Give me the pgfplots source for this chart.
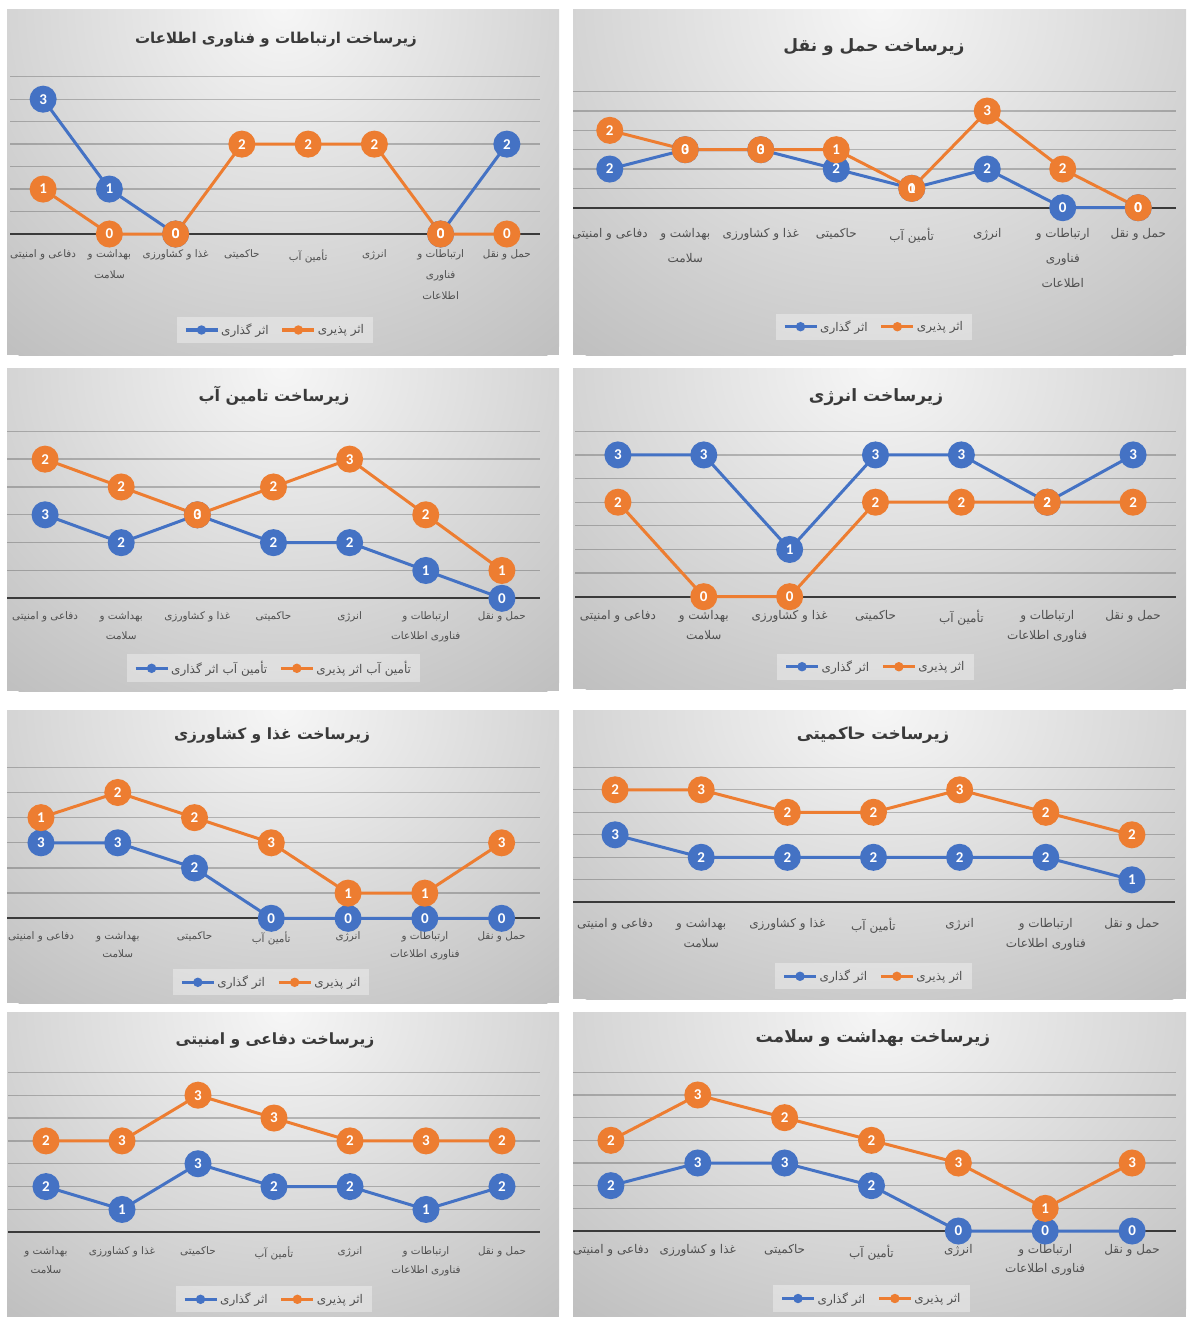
\documentclass[border=0pt]{standalone}
\usepackage{pgfplots}
\usepackage{pgfplotstable}
\pgfplotsset{compat=1.18}
\usepackage{fontspec}
\TeXXeTstate=1
\newfontfamily\fafont[Script=Arabic]{DejaVu Sans}
\newfontfamily\digfont{Carlito}
\newcommand{\fa}[1]{\beginR #1\endR}
\definecolor{cblue}{HTML}{4472C4}
\definecolor{corange}{HTML}{ED7D31}
\definecolor{labelgray}{HTML}{505050}
\definecolor{titlegray}{HTML}{3A3A3A}
\definecolor{axisdark}{HTML}{3A3A3A}
\definecolor{panelgray}{HTML}{C0C0C0}
\definecolor{panelwhite}{HTML}{F6F6F6}

\newcommand{\panel}[4]{%
 \fill[panelgray] (#1pt,-#2pt) rectangle (#3pt,-#4pt);
 \begin{scope}
 \clip (#1pt,-#2pt) rectangle (#3pt,-#4pt);
 \pgfmathsetmacro\cx{(#1+#3)/2}
 \pgfmathsetmacro\rx{0.8*(#3-#1)}
 \pgfmathsetmacro\ry{1.25*(#4-#2)}
 \shade[inner color=panelwhite, outer color=panelgray] (\cx pt,-#2pt) ellipse ({\rx pt} and {\ry pt});
 \end{scope}}

\newcommand{\CDef}{\fa{دفاعی و امنیتی}}
\newcommand{\CHea}{\fa{بهداشت و}\\\fa{سلامت}}
\newcommand{\CFoo}{\fa{غذا و کشاورزی}}
\newcommand{\CGov}{\fa{حاکمیتی}}
\newcommand{\CWat}{\fa{تأمین آب}}
\newcommand{\CEne}{\fa{انرژی}}
\newcommand{\CIctA}{\fa{ارتباطات و}\\\fa{فناوری}\\\fa{اطلاعات}}
\newcommand{\CIctB}{\fa{ارتباطات و}\\\fa{فناوری اطلاعات}}
\newcommand{\CTra}{\fa{حمل و نقل}}

\tikzset{
  tl/.style={anchor=north, align=center, inner sep=0pt, text=labelgray},
  gl/.style={draw=black, opacity=0.22, line width=1.3pt},
  zl/.style={draw=axisdark, line width=2.3pt},
  TA/.style={font=\fafont\fontsize{10.4}{21}\selectfont, yshift=-15.5pt},
  TB/.style={font=\fafont\fontsize{12}{25}\selectfont, yshift=-20.5pt},
  TC/.style={font=\fafont\fontsize{10.4}{20}\selectfont, yshift=-13.5pt},
  TD/.style={font=\fafont\fontsize{12}{19.5}\selectfont, yshift=-13.5pt},
  TE/.style={font=\fafont\fontsize{10.4}{18}\selectfont, yshift=-13pt},
  TF/.style={font=\fafont\fontsize{12}{20}\selectfont, yshift=-15.5pt},
  TG/.style={font=\fafont\fontsize{10.4}{18.6}\selectfont, yshift=-14pt},
  TH/.style={font=\fafont\fontsize{12}{18.7}\selectfont, yshift=-13.5pt},
  TT/.style={font=\fafont\bfseries\fontsize{#1}{#1}\selectfont, text=titlegray},
}
\newcommand{\TL}[3]{\node[tl,#1] at (axis cs:#2,0) {#3};}

\pgfplotsset{
  panel/.style={
    scale only axis,
    axis line style={draw=none},
    xtick=\empty, ytick=\empty,
    clip=false,
    unbounded coords=jump,
    legend columns=2,
    legend style={draw=none, fill=white, fill opacity=0.35, text opacity=1,
      font=\fafont\fontsize{12}{13}\selectfont, text=labelgray,
      at={(0.5,0)}, anchor=center, inner xsep=7pt, inner ysep=5pt,
      /tikz/every even column/.append style={column sep=10pt}},
    legend image code/.code={\draw[##1, mark size=3pt, mark repeat=2, mark phase=2, line width=3.2pt] plot coordinates {(0pt,0pt) (16pt,0pt) (32pt,0pt)};},
    /pgf/number format/assume math mode=true,
  },
  bl/.style={color=cblue, line width=3pt, mark=*, mark size=12pt, mark options={solid}},
  or/.style={color=corange, line width=3pt, mark=*, mark size=12pt, mark options={solid}},
  lab/.style={draw=none, forget plot, nodes near coords, point meta=explicit,
    every node near coord/.append style={anchor=center, text=white, inner sep=0pt,
      font=\digfont\bfseries\fontsize{15}{15}\selectfont}},
}

% ---------- data ----------
\pgfplotstableread{
x b o
0 3 1
1 1 0
2 0 0
3 nan 2
4 nan 2
5 nan 2
6 0 0
7 2 0
}\tICT
\pgfplotstableread{
x b o
0 2 2
1 3 0
2 3 0
3 2 1
4 1 0
5 2 3
6 0 2
7 0 0
}\tTRA
\pgfplotstableread{
x b o
0 3 2
1 2 2
2 3 0
3 2 2
4 2 3
5 1 2
6 0 1
}\tWAT
\pgfplotstableread{
x b o
0 3 2
1 3 0
2 1 0
3 3 2
4 3 2
5 2 2
6 3 2
}\tENE
\pgfplotstableread{
x b o
0 3 1
1 3 2
2 2 2
3 0 3
4 0 1
5 0 1
6 0 3
}\tFOO
\pgfplotstableread{
x b o
0 3 2
1 2 3
2 2 2
3 2 2
4 2 3
5 2 2
6 1 2
}\tGOV
\pgfplotstableread{
x b o
0 2 2
1 1 3
2 3 3
3 2 3
4 2 2
5 1 3
6 2 2
}\tDEF
\pgfplotstableread{
x b o
0 2 2
1 3 3
2 3 2
3 2 2
4 0 3
5 0 1
6 0 3
}\tHEA

\begin{document}
\begin{tikzpicture}
\fill[white] (0,0) rectangle (1186pt,-1317pt);
\useasboundingbox (0,0) rectangle (1186pt,-1317pt);

% ===== Panel 1: ICT =====
\panel{7}{9}{559}{355}
\node[TT=15] at (276pt,-40pt) {\fa{زیرساخت ارتباطات و فناوری اطلاعات}};
\begin{scope}
\clip (7pt,-9pt) rectangle (559pt,-355pt);
\begin{axis}[panel, at={(10pt,-234pt)}, anchor=south west, width=530pt, height=157.3pt,
  xmin=-0.5, xmax=7.5, ymin=0, ymax=3.5, legend style={yshift=-96pt}]
\pgfplotsinvokeforeach{0.5,1,1.5,2,2.5,3,3.5}{\draw[gl] (axis cs:-0.5,#1) -- (axis cs:7.5,#1);}
\draw[zl] (axis cs:-0.5,0) -- (axis cs:7.5,0);
\TL{TA}{0}{\CDef}\TL{TA}{1}{\CHea}\TL{TA}{2}{\CFoo}\TL{TA}{3}{\CGov}
\TL{TA}{4}{\CWat}\TL{TA}{5}{\CEne}\TL{TA}{6}{\CIctA}\TL{TA}{7}{\CTra}
\addplot[bl] table[x=x,y=b]{\tICT}; \addlegendentry{\fa{اثر گذاری}}
\addplot[or] table[x=x,y=o]{\tICT}; \addlegendentry{\fa{اثر پذیری}}
\addplot[lab] table[x=x,y=b,meta=b]{\tICT};
\addplot[lab] table[x=x,y=o,meta=o]{\tICT};
\end{axis}
\end{scope}

% ===== Panel 2: Transport =====
\panel{573}{9}{1186}{355}
\node[TT=17] at (874pt,-47pt) {\fa{زیرساخت حمل و نقل}};
\begin{scope}
\clip (573pt,-9pt) rectangle (1186pt,-355pt);
\begin{axis}[panel, at={(572pt,-207.7pt)}, anchor=south west, width=604pt, height=116pt,
  xmin=-0.5, xmax=7.5, ymin=0, ymax=6, legend style={yshift=-119pt}]
\pgfplotsinvokeforeach{1,...,6}{\draw[gl] (axis cs:-0.5,#1) -- (axis cs:7.5,#1);}
\draw[zl] (axis cs:-0.5,0) -- (axis cs:7.5,0);
\TL{TB}{0}{\CDef}\TL{TB}{1}{\CHea}\TL{TB}{2}{\CFoo}\TL{TB}{3}{\CGov}
\TL{TB}{4}{\CWat}\TL{TB}{5}{\CEne}\TL{TB}{6}{\CIctA}\TL{TB}{7}{\CTra}
\addplot[bl] table[x=x,y=b]{\tTRA}; \addlegendentry{\fa{اثر گذاری}}
\addplot[or] table[x=x,y expr=\thisrow{b}+\thisrow{o}]{\tTRA}; \addlegendentry{\fa{اثر پذیری}}
\addplot[lab] table[x=x,y=b,meta=b]{\tTRA};
\addplot[lab] table[x=x,y expr=\thisrow{b}+\thisrow{o},meta=o]{\tTRA};
\end{axis}
\end{scope}

% ===== Panel 3: Water =====
\panel{7}{368}{559}{691}
\node[TT=16] at (274pt,-396pt) {\fa{زیرساخت تامین آب}};
\begin{scope}
\clip (7pt,-368pt) rectangle (559pt,-691pt);
\begin{axis}[panel, at={(7pt,-598.3pt)}, anchor=south west, width=533pt, height=167pt,
  xmin=-0.5, xmax=6.5, ymin=0, ymax=6, legend style={yshift=-70pt}]
\pgfplotsinvokeforeach{1,...,6}{\draw[gl] (axis cs:-0.5,#1) -- (axis cs:6.5,#1);}
\draw[zl] (axis cs:-0.5,0) -- (axis cs:6.5,0);
\TL{TC}{0}{\CDef}\TL{TC}{1}{\CHea}\TL{TC}{2}{\CFoo}\TL{TC}{3}{\CGov}
\TL{TC}{4}{\CEne}\TL{TC}{5}{\CIctB}\TL{TC}{6}{\CTra}
\addplot[bl] table[x=x,y=b]{\tWAT}; \addlegendentry{\fa{تأمین آب اثر گذاری}}
\addplot[or] table[x=x,y expr=\thisrow{b}+\thisrow{o}]{\tWAT}; \addlegendentry{\fa{تأمین آب اثر پذیری}}
\addplot[lab] table[x=x,y=b,meta=b]{\tWAT};
\addplot[lab] table[x=x,y expr=\thisrow{b}+\thisrow{o},meta=o]{\tWAT};
\end{axis}
\end{scope}

% ===== Panel 4: Energy =====
\panel{573}{368}{1186}{689}
\node[TT=17] at (876pt,-397pt) {\fa{زیرساخت انرژی}};
\begin{scope}
\clip (573pt,-368pt) rectangle (1186pt,-689pt);
\begin{axis}[panel, at={(575pt,-596.7pt)}, anchor=south west, width=601pt, height=165.4pt,
  xmin=-0.5, xmax=6.5, ymin=0, ymax=3.5, legend style={yshift=-70pt}]
\pgfplotsinvokeforeach{0.5,1,1.5,2,2.5,3,3.5}{\draw[gl] (axis cs:-0.5,#1) -- (axis cs:6.5,#1);}
\draw[zl] (axis cs:-0.5,0) -- (axis cs:6.5,0);
\TL{TD}{0}{\CDef}\TL{TD}{1}{\CHea}\TL{TD}{2}{\CFoo}\TL{TD}{3}{\CGov}
\TL{TD}{4}{\CWat}\TL{TD}{5}{\CIctB}\TL{TD}{6}{\CTra}
\addplot[bl] table[x=x,y=b]{\tENE}; \addlegendentry{\fa{اثر گذاری}}
\addplot[or] table[x=x,y=o]{\tENE}; \addlegendentry{\fa{اثر پذیری}}
\addplot[lab] table[x=x,y=b,meta=b]{\tENE};
\addplot[lab] table[x=x,y=o,meta=o]{\tENE};
\end{axis}
\end{scope}

% ===== Panel 5: Food =====
\panel{7}{710}{559}{1003}
\node[TT=15.5] at (272pt,-735pt) {\fa{زیرساخت غذا و کشاورزی}};
\begin{scope}
\clip (7pt,-710pt) rectangle (559pt,-1003pt);
\begin{axis}[panel, at={(2.6pt,-918.3pt)}, anchor=south west, width=537.4pt, height=151pt,
  xmin=-0.5, xmax=6.5, ymin=0, ymax=6, legend style={yshift=-64pt}]
\pgfplotsinvokeforeach{1,...,6}{\draw[gl] (axis cs:-0.5,#1) -- (axis cs:6.5,#1);}
\draw[zl] (axis cs:-0.5,0) -- (axis cs:6.5,0);
\TL{TE}{0}{\CDef}\TL{TE}{1}{\CHea}\TL{TE}{2}{\CGov}\TL{TE}{3}{\CWat}
\TL{TE}{4}{\CEne}\TL{TE}{5}{\CIctB}\TL{TE}{6}{\CTra}
\addplot[bl] table[x=x,y=b]{\tFOO}; \addlegendentry{\fa{اثر گذاری}}
\addplot[or] table[x=x,y expr=\thisrow{b}+\thisrow{o}]{\tFOO}; \addlegendentry{\fa{اثر پذیری}}
\addplot[lab] table[x=x,y=b,meta=b]{\tFOO};
\addplot[lab] table[x=x,y expr=\thisrow{b}+\thisrow{o},meta=o]{\tFOO};
\end{axis}
\end{scope}

% ===== Panel 6: Governance =====
\panel{573}{710}{1186}{999}
\node[TT=16.5] at (873pt,-735pt) {\fa{زیرساخت حاکمیتی}};
\begin{scope}
\clip (573pt,-710pt) rectangle (1186pt,-999pt);
\begin{axis}[panel, at={(572pt,-902.3pt)}, anchor=south west, width=603pt, height=135pt,
  xmin=-0.5, xmax=6.5, ymin=0, ymax=6, legend style={yshift=-74pt}]
\pgfplotsinvokeforeach{1,...,6}{\draw[gl] (axis cs:-0.5,#1) -- (axis cs:6.5,#1);}
\draw[zl] (axis cs:-0.5,0) -- (axis cs:6.5,0);
\TL{TF}{0}{\CDef}\TL{TF}{1}{\CHea}\TL{TF}{2}{\CFoo}\TL{TF}{3}{\CWat}
\TL{TF}{4}{\CEne}\TL{TF}{5}{\CIctB}\TL{TF}{6}{\CTra}
\addplot[bl] table[x=x,y=b]{\tGOV}; \addlegendentry{\fa{اثر گذاری}}
\addplot[or] table[x=x,y expr=\thisrow{b}+\thisrow{o}]{\tGOV}; \addlegendentry{\fa{اثر پذیری}}
\addplot[lab] table[x=x,y=b,meta=b]{\tGOV};
\addplot[lab] table[x=x,y expr=\thisrow{b}+\thisrow{o},meta=o]{\tGOV};
\end{axis}
\end{scope}

% ===== Panel 7: Defense =====
\panel{7}{1012}{559}{1317}
\node[TT=15.5] at (275pt,-1040pt) {\fa{زیرساخت دفاعی و امنیتی}};
\begin{scope}
\clip (7pt,-1012pt) rectangle (559pt,-1317pt);
\begin{axis}[panel, at={(8pt,-1232.3pt)}, anchor=south west, width=532pt, height=160pt,
  xmin=-0.5, xmax=6.5, ymin=0, ymax=7, legend style={yshift=-67pt}]
\pgfplotsinvokeforeach{1,...,7}{\draw[gl] (axis cs:-0.5,#1) -- (axis cs:6.5,#1);}
\draw[zl] (axis cs:-0.5,0) -- (axis cs:6.5,0);
\TL{TG}{0}{\CHea}\TL{TG}{1}{\CFoo}\TL{TG}{2}{\CGov}\TL{TG}{3}{\CWat}
\TL{TG}{4}{\CEne}\TL{TG}{5}{\CIctB}\TL{TG}{6}{\CTra}
\addplot[bl] table[x=x,y=b]{\tDEF}; \addlegendentry{\fa{اثر گذاری}}
\addplot[or] table[x=x,y expr=\thisrow{b}+\thisrow{o}]{\tDEF}; \addlegendentry{\fa{اثر پذیری}}
\addplot[lab] table[x=x,y=b,meta=b]{\tDEF};
\addplot[lab] table[x=x,y expr=\thisrow{b}+\thisrow{o},meta=o]{\tDEF};
\end{axis}
\end{scope}

% ===== Panel 8: Health =====
\panel{573}{1012}{1186}{1317}
\node[TT=17] at (873pt,-1038pt) {\fa{زیرساخت بهداشت و سلامت}};
\begin{scope}
\clip (573pt,-1012pt) rectangle (1186pt,-1317pt);
\begin{axis}[panel, at={(567.5pt,-1231pt)}, anchor=south west, width=608pt, height=158.7pt,
  xmin=-0.5, xmax=6.5, ymin=0, ymax=7, legend style={yshift=-67.5pt}]
\pgfplotsinvokeforeach{1,...,7}{\draw[gl] (axis cs:-0.5,#1) -- (axis cs:6.5,#1);}
\draw[zl] (axis cs:-0.5,0) -- (axis cs:6.5,0);
\TL{TH}{0}{\CDef}\TL{TH}{1}{\CFoo}\TL{TH}{2}{\CGov}\TL{TH}{3}{\CWat}
\TL{TH}{4}{\CEne}\TL{TH}{5}{\CIctB}\TL{TH}{6}{\CTra}
\addplot[bl] table[x=x,y=b]{\tHEA}; \addlegendentry{\fa{اثر گذاری}}
\addplot[or] table[x=x,y expr=\thisrow{b}+\thisrow{o}]{\tHEA}; \addlegendentry{\fa{اثر پذیری}}
\addplot[lab] table[x=x,y=b,meta=b]{\tHEA};
\addplot[lab] table[x=x,y expr=\thisrow{b}+\thisrow{o},meta=o]{\tHEA};
\end{axis}
\end{scope}

\end{tikzpicture}
\end{document}
